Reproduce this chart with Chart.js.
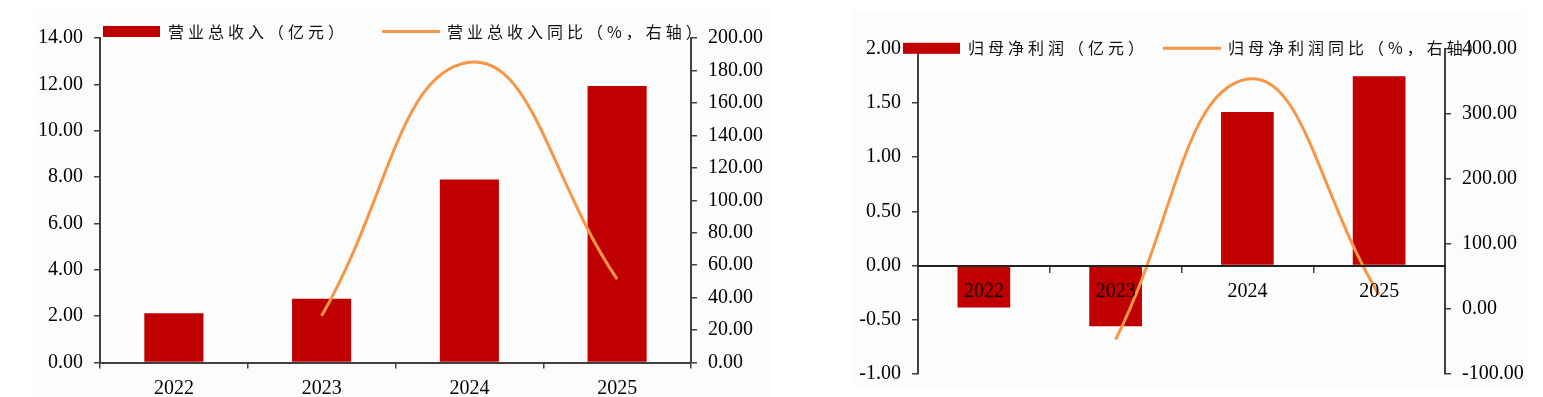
<!DOCTYPE html>
<html>
<head>
<meta charset="utf-8">
<script src="https://cdn.jsdelivr.net/npm/chart.js@4/dist/chart.umd.min.js"></script>
<style>
  html, body { margin: 0; padding: 0; background: #fff; }
  body { width: 1543px; height: 397px; position: relative; overflow: hidden; }
  .bg { position: absolute; background: #fcfcfc; }
  canvas { position: absolute; top: 0; }
</style>
</head>
<body>
<div class="bg" style="left:33px;top:7px;width:737px;height:390px"></div>
<div class="bg" style="left:852px;top:10px;width:675px;height:378px"></div>
<canvas id="revChart" width="780" height="397" style="left:0"></canvas>
<canvas id="profitChart" width="763" height="397" style="left:780px"></canvas>
<script>
// data
const years = ['2022', '2023', '2024', '2025'];
const revenue = [2.13, 2.75, 7.89, 11.93];          // 营业总收入（亿元）
const revenueYoy = [null, 28.8, 185, 51.4];          // 同比 %
const netProfit = [-0.386, -0.56, 1.415, 1.745];     // 归母净利润（亿元）
const netProfitYoy = [null, -47, 353, 21.5];         // 同比 %

const RED = '#c00000';
const ORANGE = '#f79646';
const AXIS = '#404040';
const NUM_FONT = { family: '"Liberation Serif", "DejaVu Serif", serif', size: 20 };

// legend drawn at fixed spots (the second chart has it inside the plot)
const legendAt = {
    id: 'legendAt',
    afterDraw(chart, args, opts) {
        const ctx = chart.ctx;
        ctx.save();
        ctx.font = '16px "Noto Sans CJK SC"';
        ctx.letterSpacing = '4px';
        ctx.textBaseline = 'middle';
        chart.data.datasets.forEach((ds, i) => {
            const x = opts.x[i], y = opts.y;
            if (ds.type === 'line') {
                ctx.strokeStyle = ds.borderColor;
                ctx.lineWidth = 3;
                ctx.beginPath();
                ctx.moveTo(x, y);
                ctx.lineTo(x + 58, y);
                ctx.stroke();
            } else {
                ctx.fillStyle = ds.backgroundColor;
                ctx.fillRect(x, y - 5.5, 57, 11);
            }
            ctx.fillStyle = '#111';
            ctx.fillText(ds.label, x + 65, y);
        });
        ctx.restore();
    }
};

function yAxis(pos, min, max, step, width) {
    return {
        position: pos, min: min, max: max,
        afterFit: s => { s.width = width; },
        ticks: { stepSize: step, color: '#000', font: NUM_FONT, padding: 11, callback: v => v.toFixed(2) },
        grid: { drawOnChartArea: false, color: AXIS, lineWidth: 1.5, tickLength: 6 },
        border: { color: AXIS, width: 2 }
    };
}

function makeChart(id, labels, bars, line, cfg) {
    const ctx = document.getElementById(id).getContext('2d');
    return new Chart(ctx, {
        type: 'bar',
        data: {
            labels: labels,
            datasets: [
                { type: 'bar', label: cfg.barLabel, data: bars, backgroundColor: RED, borderWidth: 0,
                  barPercentage: 0.4, categoryPercentage: 1, yAxisID: 'y', order: 2 },
                { type: 'line', label: cfg.lineLabel, data: line, borderColor: ORANGE, borderWidth: 3,
                  pointRadius: 0, tension: 0.45, yAxisID: 'y1', order: 1 }
            ]
        },
        options: {
            responsive: false,
            animation: false,
            layout: { padding: cfg.padding },
            plugins: {
                legend: { display: false },
                tooltip: { enabled: false },
                legendAt: cfg.legend
            },
            scales: {
                x: {
                    position: cfg.xPos,
                    afterFit: s => { if (cfg.xHeight) s.height = cfg.xHeight; },
                    ticks: { color: '#000', font: NUM_FONT, padding: 8, z: cfg.xZ },
                    grid: { drawOnChartArea: false, color: AXIS, lineWidth: 1.5, tickLength: 6, offset: true },
                    border: { color: cfg.xBorder, width: 2, z: cfg.xZ }
                },
                y: yAxis('left', cfg.yMin, cfg.yMax, cfg.yStep, cfg.yWidth),
                y1: yAxis('right', cfg.y1Min, cfg.y1Max, cfg.y1Step, cfg.y1Width)
            }
        },
        plugins: [legendAt]
    });
}

makeChart('revChart', years, revenue, revenueYoy, {
    barLabel: '营业总收入（亿元）',
    lineLabel: '营业总收入同比（%，右轴）',
    padding: { top: 38, left: 0, right: 0, bottom: 0 },
    legend: { x: [103, 382], y: 31.5 },
    xPos: 'bottom', xZ: 0, xHeight: 34.5, xBorder: AXIS,
    yMin: 0, yMax: 14, yStep: 2, yWidth: 100,
    y1Min: 0, y1Max: 200, y1Step: 20, y1Width: 89
});

makeChart('profitChart', years, netProfit, netProfitYoy, {
    barLabel: '归母净利润（亿元）',
    lineLabel: '归母净利润同比（%，右轴）',
    padding: { top: 48.5, left: 0, right: 0, bottom: 20.7 },
    legend: { x: [123, 383], y: 48.3 },
    xPos: { y: 0 }, xZ: 1, xHeight: 0, xBorder: '#222',
    yMin: -1, yMax: 2, yStep: 0.5, yWidth: 138,
    y1Min: -100, y1Max: 400, y1Step: 100, y1Width: 98
});
</script>
</body>
</html>
